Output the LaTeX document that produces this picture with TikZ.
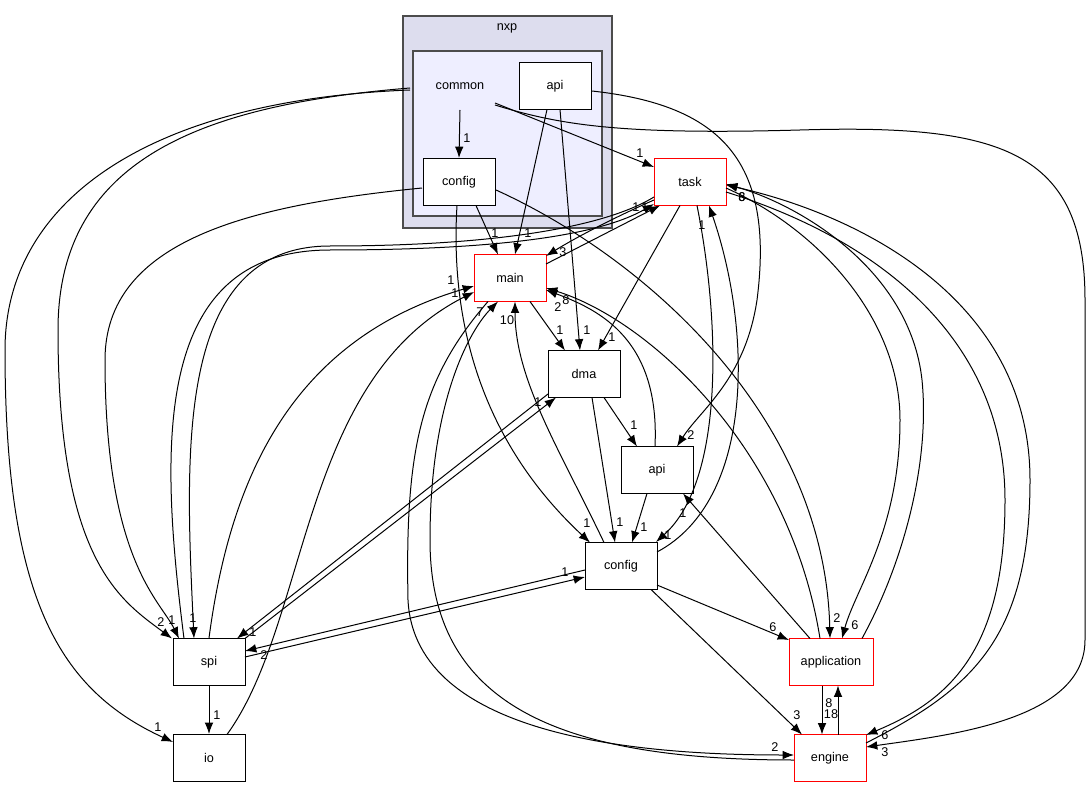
\documentclass[tikz,border=0pt]{standalone}
\usepackage{fontspec}
\setmainfont{Liberation Sans}
\usetikzlibrary{arrows.meta,calc}

\begin{document}
\begin{tikzpicture}[
	x=0.75pt, y=-0.75pt,
	every node/.style={font=\fontsize{9.5}{11}\selectfont,
						inner sep=1pt
						},
	dir/.style= {draw, fill=white,
				minimum width=54pt,
				minimum height=35.25pt,
				inner sep=0pt,
				line width=0.75pt
	},
	hot/.style={dir, draw=red},
	dep/.style={-{Latex[length=8.5pt,width=6.5pt]}, line width=0.75pt},
	lbl/.style={inner sep=0pt}
]
	\useasboundingbox[fill=white] (0,0) rectangle (1089,788);
	% clusters
	\draw[fill={rgb,255:red,221;green,221;blue,238}, draw=black!70, line width=1pt] (403,16) rectangle (612,228);
	\draw[fill={rgb,255:red,238;green,238;blue,255}, draw=black!70, line width=1pt] (413,51) rectangle (602,216);
	\node (nxp) at (507,28) {nxp};
	\node (common) at (460,86) {common};
	\node (capi) [dir] at (555,86) {api};
	\node (cconfig) [dir] at (459,182) {config};
	\node (task) [hot] at (690,182) {task};
	\node (main) [hot] at (510,278) {main};
	\node (dma) [dir] at (584,374) {dma};
	\node (api) [dir] at (657,470) {api};
	\node (config) [dir] at (621,566) {config};
	\node (spi) [dir] at (209,662) {spi};
	\node (io) [dir] at (209,758) {io};
	\node (application) [hot, minimum width=63pt] at (831,662) {application};
	\node (engine) [hot] at (830,758) {engine};

	% from common
	\draw[dep] ($(common)+(0,24)$) -- (cconfig.north) node[lbl, at={(467,138)}] {1};
	\draw[dep] ($(common)+(35,17)$) -- ($(task)+(-36,-15)$) node[lbl, at={(640,153)}] {1};
	\draw[dep] ($(common)+(35,19)$) .. controls (560,125) and (620,135) .. (800,130)
		.. controls (1000,124) and (1085,150) .. (1085,300) -- (1085,640)
		.. controls (1085,720) and (950,735) .. ($(engine)+(36,-11)$) node[lbl, at={(885,752)}] {3};
	\draw[dep] ($(common)+(-50,2)$) .. controls (200,105) and (58,160) .. (58,330)
		.. controls (58,560) and (120,600) .. ($(spi)+(-37,-23.5)$) node[lbl, at={(161,622)}] {2};
	\draw[dep] ($(common)+(-50,4)$) .. controls (150,100) and (5,200) .. (5,350)
		.. controls (5,600) and (60,690) .. ($(io)+(-36,-16)$) node[lbl, at={(158,727)}] {1};
	% from nxp api
	\draw[dep] ($(capi)+(-8,23.5)$) -- ($(main)+(5,-23.5)$) node[lbl, at={(528,233)}] {1};
	\draw[dep] ($(capi)+(5,23.5)$) -- ($(dma)+(-4,-23.5)$) node[lbl, at={(587,330)}] {1};
	\draw[dep] ($(capi)+(37,5)$) .. controls (720,105) and (775,160) .. (757,300)
		.. controls (745,380) and (700,410) .. ($(api)+(20,-23.5)$) node[lbl, at={(691,435)}] {2};
	% from common config
	\draw[dep] ($(cconfig)+(17,23.5)$) -- ($(main)+(-12,-23.5)$) node[lbl, at={(495,233)}] {1};
	\draw[dep] ($(cconfig)+(-2,23.5)$) .. controls (450,320) and (480,440) .. ($(config)+(-31,-23.5)$) node[lbl, at={(587,523)}] {1};
	\draw[dep] ($(cconfig)+(37,8)$) .. controls (650,260) and (825,420) .. ($(application)+(-1,-23.5)$) node[lbl, at={(837,618)}] {2};
	\draw[dep] ($(cconfig)+(-37,6)$) .. controls (250,205) and (105,240) .. (105,360)
		.. controls (105,560) and (160,600) .. ($(spi)+(-30,-23.5)$) node[lbl, at={(172,620)}] {1};
	% task and main
	\draw[dep] ($(task)+(-36,18)$) .. controls (620,215) and (580,235) .. ($(main)+(36,-22)$) node[lbl, at={(563,252)}] {3};
	\draw[dep] ($(main)+(36,-14)$) -- ($(task)+(-30,23.5)$) node[lbl, at={(645,207)}] {1};
	\draw[dep] ($(spi)+(-25,-23.5)$) .. controls (160,450) and (150,250) .. (330,250)
		.. controls (500,250) and (600,235) .. ($(task)+(-36,22)$) node[lbl, at={(636,207)}] {1};
	\draw[dep] ($(task)+(-36,15)$) .. controls (600,230) and (480,246) .. (330,246)
		.. controls (175,246) and (185,450) .. ($(spi)+(-15,-23.5)$) node[lbl, at={(193,618)}] {1};
	\draw[dep] ($(task)+(-10,23.5)$) -- ($(dma)+(14,-23.5)$) node[lbl, at={(612,337)}] {1};
	\draw[dep] ($(main)+(20,23.5)$) -- ($(dma)+(-19,-23.5)$) node[lbl, at={(560,330)}] {1};
	% dma, api, config
	\draw[dep] ($(dma)+(20,23.5)$) -- ($(api)+(-20,-23.5)$) node[lbl, at={(634,425)}] {1};
	\draw[dep] ($(dma)+(8,23.5)$) -- ($(config)+(-6,-23.5)$) node[lbl, at={(620,522)}] {1};
	\draw[dep] ($(api)+(-10,23.5)$) -- ($(config)+(11,-23.5)$) node[lbl, at={(644,527)}] {1};
	\draw[dep] ($(task)+(7,23.5)$) .. controls (720,320) and (725,480) .. ($(config)+(35,-24)$) node[lbl, at={(668,535)}] {1};
	\draw[dep] ($(config)+(36,-14)$) .. controls (755,500) and (752,330) .. ($(task)+(19,23.5)$) node[lbl, at={(702,225)}] {1};
	\draw[dep] ($(config)+(-17,-23.5)$) .. controls (560,450) and (515,380) .. ($(main)+(5,23.5)$) node[lbl, at={(507,320)}] {10};
	\draw[dep] ($(engine)+(-36,2)$) .. controls (550,760) and (430,700) .. (430,540)
		.. controls (430,400) and (470,330) .. ($(main)+(-12,23.5)$) node[lbl, at={(480,312)}] {7};
	\draw[dep] ($(main)+(-22,23.5)$) .. controls (420,380) and (405,450) .. (408,600)
		.. controls (415,740) and (650,755) .. ($(engine)+(-36,-3)$) node[lbl, at={(775,747)}] {2};
	\draw[dep] (spi.north) .. controls (230,480) and (290,340) .. ($(main)+(-36,8)$) node[lbl, at={(451,280)}] {1};
	\draw[dep] ($(io)+(18,-23.5)$) .. controls (310,620) and (300,380) .. ($(main)+(-36,14)$) node[lbl, at={(455,293)}] {1};
	\draw[dep] ($(api)+(-2,-23.5)$) .. controls (660,340) and (600,310) .. ($(main)+(36,12)$) node[lbl, at={(558,307)}] {2};
	\draw[dep] ($(application)+(-11,-23.5)$) .. controls (790,450) and (650,320) .. ($(main)+(36,10)$) node[lbl, at={(566,300)}] {8};
	% application and engine
	\draw[dep] ($(application)+(-21,-23.5)$) -- ($(api)+(26,23.5)$) node[lbl, at={(683,513)}] {1};
	\draw[dep] ($(config)+(36,19)$) -- ($(application)+(-42,-22)$) node[lbl, at={(773,627)}] {6};
	\draw[dep] ($(config)+(30,23.5)$) -- ($(engine)+(-28,-23.5)$) node[lbl, at={(797,715)}] {3};
	\draw[dep] ($(application)+(-9,23.5)$) -- ($(engine)+(-8,-23.5)$) node[lbl, at={(831,714)}] {18};
	\draw[dep] ($(engine)+(8,-23.5)$) -- ($(application)+(7,23.5)$) node[lbl, at={(829,703)}] {8};
	\draw[dep] ($(task)+(36,6)$) .. controls (820,230) and (900,320) .. (900,420)
		.. controls (900,530) and (855,590) .. ($(application)+(11,-23.5)$) node[lbl, at={(855,625)}] {6};
	\draw[dep] ($(application)+(31,-23.5)$) .. controls (905,560) and (930,460) .. (922,380)
		.. controls (910,270) and (800,205) .. ($(task)+(36,2)$) node[lbl, at={(742,197)}] {8};
	\draw[dep] ($(task)+(36,10)$) .. controls (880,240) and (1005,340) .. (1005,500)
		.. controls (1005,650) and (950,700) .. ($(engine)+(36,-23)$) node[lbl, at={(885,735)}] {6};
	\draw[dep] ($(engine)+(36,-15)$) .. controls (970,690) and (1030,640) .. (1030,480)
		.. controls (1030,300) and (860,215) .. ($(task)+(36,3)$) node[lbl, at={(742,197)}] {6};
	% spi
	\draw[dep] (spi.south) -- (io.north) node[lbl, at={(217,715)}] {1};
	\draw[dep] ($(spi)+(36,-23.5)$) -- ($(dma)+(-28,23.5)$) node[lbl, at={(538,402)}] {1};
	\draw[dep] ($(dma)+(-36,20)$) -- ($(spi)+(28,-23.5)$) node[lbl, at={(253,632)}] {1};
	\draw[dep] ($(spi)+(36,-5)$) -- ($(config)+(-36,11)$) node[lbl, at={(565,572)}] {1};
	\draw[dep] ($(config)+(-36,4)$) -- ($(spi)+(36,-11)$) node[lbl, at={(264,655)}] {2};
\end{tikzpicture}
\end{document}
